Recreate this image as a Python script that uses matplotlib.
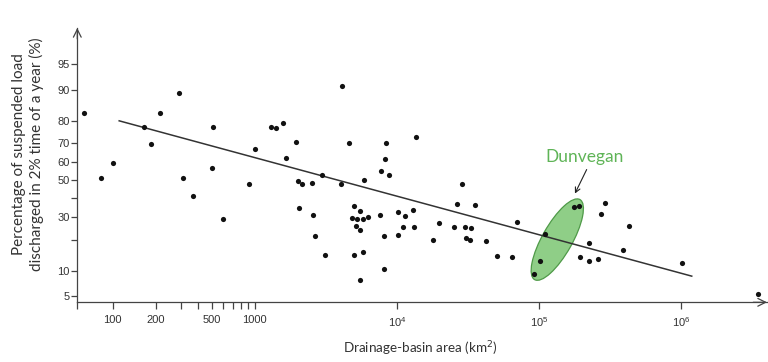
import numpy as np
import matplotlib
matplotlib.use('Agg')
from matplotlib import pyplot as plt, patches, transforms
from statistics import NormalDist

# drainage-basin area (km2) and % of suspended load discharged in 2% of time
area = [63, 82, 101, 167, 187, 216, 294, 313, 367, 506, 502, 594,
        4130, 1300, 1417, 1588, 1003, 1960, 1660, 906, 2023, 2148, 2529, 2987,
        4062, 4603, 8418, 8279, 7691, 8847, 5867, 2057, 2554, 2665, 3135, 4990,
        5499, 4855, 5240, 5745, 6292, 7569, 5152, 5499, 8075, 10140, 10140,
        5012, 5770, 8075, 5499,
        13700, 28580, 26360, 35300, 11460, 12910, 10990, 13190, 19870, 17950,
        25350, 30130, 33420, 30620, 32660, 42360, 50350, 64270, 70310,
        175400, 190100, 110200, 102100, 92250,
        290000, 271600, 429700, 225900, 390000, 193200, 223900, 261300,
        1009000, 3476000]
pct = [83, 51.5, 59.5, 77.4, 69.4, 82.9, 89.3, 51.5, 41.2, 77.5, 57.1, 29.2,
       90.9, 77.4, 77.0, 79.1, 67.1, 70.6, 62.2, 47.6, 49.4, 48.1, 48.7, 53.2,
       47.6, 70.0, 70.0, 61.7, 55.3, 52.7, 50.4, 34.9, 31.3, 21.5, 14.6, 35.8,
       32.9, 29.8, 29.0, 29.0, 30.0, 31.1, 25.7, 24.2, 21.5, 32.5, 21.8,
       14.3, 15.4, 10.3, 7.9,
       72.8, 47.9, 36.7, 36.5, 30.8, 33.9, 25.4, 25.4, 27.2, 20.0,
       25.4, 25.4, 25.1, 20.8, 19.9, 19.5, 14.1, 13.7, 27.6,
       35.1, 35.6, 22.2, 12.7, 9.1,
       37.2, 31.6, 25.7, 18.8, 16.3, 13.8, 12.5, 13.1,
       11.9, 5.4]

# regression line end points
fit_area = [111, 1.19e6]
fit_pct = [80.0, 8.7]

# Dunvegan group
dunvegan_center = (134600, 20.0)
dunvegan_label = (209800, 62.8)
dunvegan_arrow_from = (216700, 56.0)
dunvegan_arrow_to = (179200, 42.5)

xticks = [100, 200, 300, 400, 500, 600, 700, 800, 900, 1000, 1e4, 1e5, 1e6]
xticklabels = ['100', '200', '', '', '500', '', '', '', '', '1000',
               r'$\mathregular{10^4}$', r'$\mathregular{10^5}$', r'$\mathregular{10^6}$']
yticks = [5, 10, 20, 30, 40, 50, 60, 70, 80, 90, 95]
yticklabels = ['5', '10', '', '30', '', '50', '60', '70', '80', '90', '95']

nd = NormalDist()


def fwd(p):
    p = np.clip(np.asarray(p, dtype=float), 1e-6, 100 - 1e-6)
    return np.vectorize(lambda v: nd.inv_cdf(v / 100.0), otypes=[float])(p)


def inv(z):
    z = np.asarray(z, dtype=float)
    return np.vectorize(lambda v: 100.0 * nd.cdf(v), otypes=[float])(z)


plt.rcParams['font.family'] = ['Liberation Sans', 'DejaVu Sans']
axis_col = '#444444'

fig = plt.figure(figsize=(7.68, 3.62), dpi=100)
ax = fig.add_axes([77.3 / 768, 1 - 302.3 / 362, (767 - 77.3) / 768, (302.3 - 28) / 362])
ax.set_xscale('log')
ax.set_yscale('function', functions=(fwd, inv))
ax.set_xlim(56.3, 4.03e6)
ax.set_ylim(4.18, 98.45)

ax.plot(fit_area, fit_pct, color='#333333', lw=1.1, zorder=2)

ell = patches.Ellipse((0, 0), 0.92, 0.30, angle=60.5,
                      facecolor='#8fce87', edgecolor='#4f9a48', lw=0.9, zorder=1,
                      transform=fig.dpi_scale_trans + transforms.ScaledTranslation(
                          dunvegan_center[0], dunvegan_center[1], ax.transData))
ax.add_patch(ell)

ax.scatter(area, pct, s=14, color='#111111', zorder=3, linewidths=0)

ax.text(dunvegan_label[0], dunvegan_label[1], 'Dunvegan', color='#5fb457',
        fontsize=12.5, family=['Lato', 'DejaVu Sans'], ha='center', va='center')
ax.annotate('', xy=dunvegan_arrow_to, xytext=dunvegan_arrow_from,
            arrowprops=dict(arrowstyle='->', color='#222222', lw=0.8,
                            shrinkA=0, shrinkB=0, mutation_scale=9))

for s in ['top', 'right']:
    ax.spines[s].set_visible(False)
for s in ['left', 'bottom']:
    ax.spines[s].set_color(axis_col)
    ax.spines[s].set_linewidth(0.9)

ax.set_xticks([56.3] + xticks)
ax.set_xticklabels([''] + xticklabels)
ax.xaxis.set_minor_locator(matplotlib.ticker.NullLocator())
ax.set_yticks(yticks)
ax.set_yticklabels(yticklabels)
ax.yaxis.set_minor_locator(matplotlib.ticker.NullLocator())
ax.tick_params(axis='x', direction='out', length=5, width=0.9, color=axis_col,
               labelsize=8, labelcolor='#333333', pad=4)
ax.tick_params(axis='y', direction='out', length=4, width=0.9, color=axis_col,
               labelsize=8, labelcolor='#333333', pad=1.5)

# axis arrows
ax.annotate('', xy=(0, 1.0), xycoords='axes fraction', xytext=(0, 0.96),
            arrowprops=dict(arrowstyle='->', color=axis_col, lw=0.9,
                            shrinkA=0, shrinkB=0, mutation_scale=14))
ax.annotate('', xy=(1.0, 0), xycoords='axes fraction', xytext=(0.98, 0),
            arrowprops=dict(arrowstyle='->', color=axis_col, lw=0.9,
                            shrinkA=0, shrinkB=0, mutation_scale=14))

fig.text(28 / 768, 1 - 154 / 362,
         'Percentage of suspended load\ndischarged in 2% time of a year (%)',
         rotation=90, ha='center', va='center', ma='center', fontsize=11,
         family=['Lato', 'DejaVu Sans'], color='#333333', linespacing=1.3)
fig.text(420 / 768, 1 - 349 / 362, 'Drainage-basin area (km$^2$)',
         ha='center', va='center', fontsize=9.7, family=['Lato', 'DejaVu Sans'],
         color='#333333')

fig.savefig('out.png', dpi=100, facecolor='white')
